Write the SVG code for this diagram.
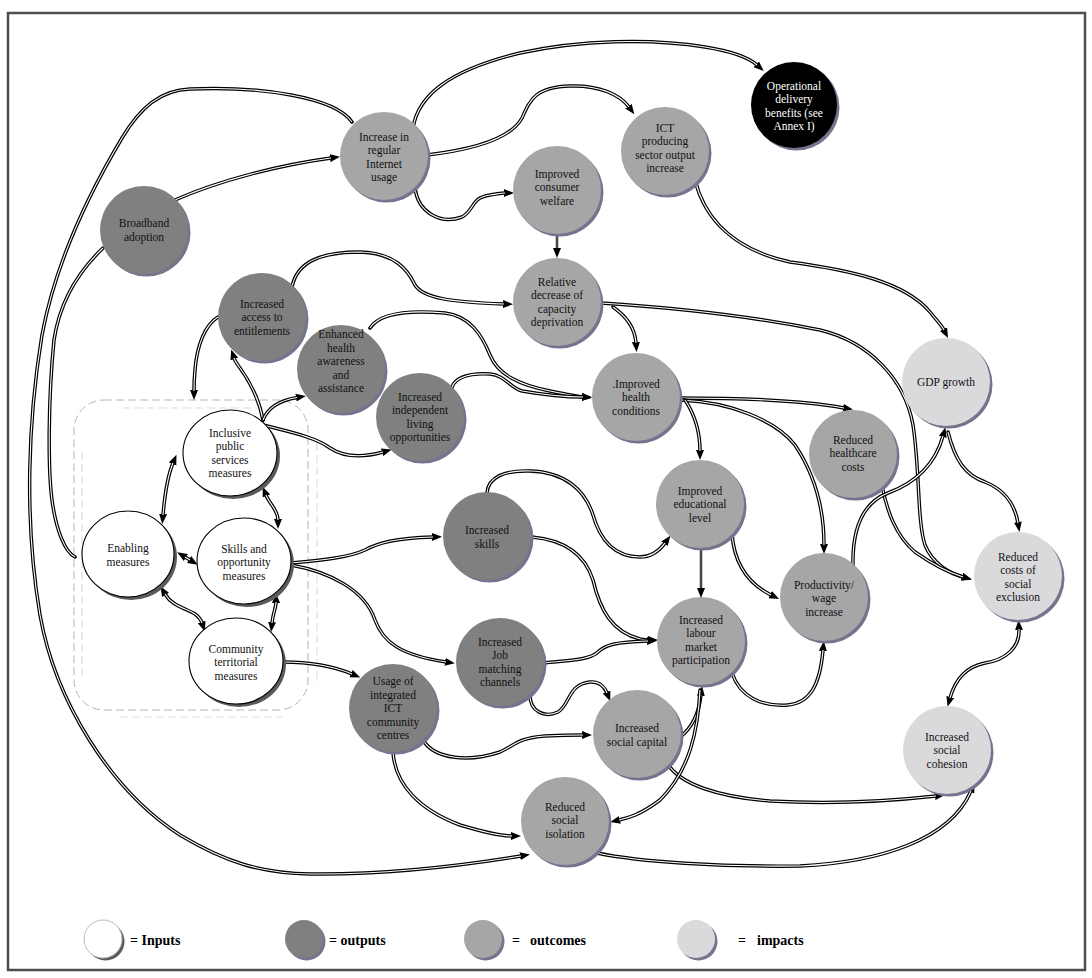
<svg xmlns="http://www.w3.org/2000/svg" xmlns:xlink="http://www.w3.org/1999/xlink" width="1092" height="978" viewBox="0 0 1092 978">
  <style>
    .frame{fill:#fff;stroke:#4d4d4d;stroke-width:2.5}
    .box{fill:none;stroke:#b5b5b5;stroke-width:1;stroke-dasharray:8 4}
    .box2{fill:none;stroke:#dcdce8;stroke-width:1.2;stroke-dasharray:8 4}
    .ln{fill:none;stroke:#000;stroke-width:3.5;stroke-linecap:round}
    .core{fill:none;stroke:#fff;stroke-width:1.1;stroke-linecap:butt}
    .st{fill:none;stroke:#4a4a4a;stroke-width:2.6}
    .ae{marker-end:url(#ah)}
    .ab{marker-start:url(#ahs);marker-end:url(#ah)}
    .sh{fill:#74748e}
    .shw{fill:#5a5a5a}
    .inp{fill:#fff;stroke:#000;stroke-width:1.1}
    .out{fill:#808080}
    .oc{fill:#a6a6a6}
    .im{fill:#dadadd}
    .op{fill:#000}
    text{font-family:"Liberation Serif","Times New Roman",serif;font-size:11.5px;fill:#111;text-anchor:middle}
    text.w{fill:#fff}
    text.lg{font-size:14px;font-weight:bold;text-anchor:start;fill:#000}
  </style>
  <defs>
    <marker id="ah" viewBox="0 0 10 8" refX="1" refY="4" markerWidth="10" markerHeight="8.5" markerUnits="userSpaceOnUse" orient="auto">
      <path d="M0,0 L10,4 L0,8 z" fill="#000"/>
    </marker>
    <marker id="ahs" viewBox="0 0 10 8" refX="1" refY="4" markerWidth="10" markerHeight="8.5" markerUnits="userSpaceOnUse" orient="auto-start-reverse">
      <path d="M0,0 L10,4 L0,8 z" fill="#000"/>
    </marker>
    <!-- connector geometry -->
    <path id="c1" d="M352,122 C335,97 260,86 190,89 C160,90 140,108 122,138 C88,195 55,265 42,335 C28,420 24,520 40,615 C55,700 110,790 180,835 C225,862 260,873 310,874 C390,875 460,866 521,856"/>
    <path id="c2" d="M103,248 C80,270 60,300 54,340 C48,400 48,470 52,500 C56,530 65,552 75,557"/>
    <path id="c3" d="M175,200 C220,180 280,165 331,158"/>
    <path id="c4" d="M413,128 C418,95 450,70 520,53 C580,40 650,38 705,47 C730,51 748,57 757,65"/>
    <path id="c5" d="M427,155 C470,150 510,140 522,118 C530,100 535,87 570,86 C600,85 620,95 629,107"/>
    <path id="c6" d="M415,188 C418,212 440,225 462,217 C475,210 470,198 490,195 C497,194 502,193 505,193"/>
    <path id="c8" d="M695,180 C705,220 735,250 790,262 C850,270 905,282 930,312 C938,322 942,326 944,330"/>
    <path id="c9" d="M292,287 C297,262 320,252 360,252 C395,253 408,270 415,285 C423,298 450,302 504,304"/>
    <path id="c10" d="M370,328 C380,312 410,310 445,313 C470,316 482,335 490,355 C498,375 520,385 550,391 C565,394 575,396 583,397"/>
    <path id="c11" d="M452,387 C456,377 470,373 490,374 C505,375 510,388 522,391 C545,395 565,397 583,397"/>
    <path id="c12" d="M613,307 C626,316 635,328 636,343"/>
    <path id="c13" d="M601,303 C680,308 760,318 820,330 C870,342 905,380 913,425 C920,470 917,520 925,545 C933,565 952,574 963,577"/>
    <path id="c14" d="M882,486 C887,510 895,535 915,552 C935,566 950,573 963,577"/>
    <path id="c15" d="M853,567 C852,530 862,503 888,493 C915,483 935,465 943,436"/>
    <path id="c16" d="M948,432 C955,460 965,475 985,482 C1005,490 1015,505 1018,523"/>
    <path id="c17" d="M680,398 C740,398 800,400 844,408"/>
    <path id="c18" d="M681,400 C730,402 775,420 795,445 C815,475 824,510 824,545"/>
    <path id="c19" d="M685,400 C695,415 700,430 700,451"/>
    <path id="c21" d="M732,534 C734,560 745,582 771,595"/>
    <path id="c22" d="M732,673 C740,697 762,707 788,705 C810,703 820,685 823,650"/>
    <path id="c23" d="M487,493 C488,477 505,470 530,471 C565,472 585,490 593,515 C600,540 615,557 640,557 C655,557 662,547 665,543"/>
    <path id="c24" d="M532,537 C565,540 585,555 593,580 C600,610 612,632 640,639 C645,640 647,640 649,640"/>
    <path id="c25" d="M291,563 C325,560 350,557 365,550 C378,543 395,538 433,537"/>
    <path id="c26" d="M291,565 C330,572 365,590 375,620 C383,642 400,655 446,662"/>
    <path id="c27" d="M543,663 C570,660 590,660 598,652 C605,645 615,642 648,641"/>
    <path id="c28" d="M530,695 C530,712 545,718 558,712 C570,705 568,684 590,682 C600,681 605,688 607,693"/>
    <path id="c29" d="M283,662 C310,662 333,666 352,674"/>
    <path id="c30" d="M423,740 C435,760 470,762 500,752 C515,745 518,738 545,736 C565,735 575,735 583,735"/>
    <path id="c31" d="M393,752 C395,785 420,810 460,825 C490,834 505,836 512,836"/>
    <path id="c32" d="M667,763 C680,785 720,797 770,801 C840,805 900,800 936,796"/>
    <path id="c33" d="M597,853 C640,862 720,867 800,866 C880,862 950,840 971,791"/>
    <path id="c34" d="M680,737 C692,728 699,712 701,695"/>
    <path id="c35" d="M700,690 C698,730 690,770 660,800 C640,815 628,818 619,820"/>
    <path id="c36" d="M1019,629 C1020,648 1005,660 985,663 C965,667 955,680 950,698"/>
    <path id="c37" d="M218,317 C205,325 197,345 195,370 C194,380 194,387 194,391"/>
    <path id="c38" d="M263,420 C259,398 250,382 240,368 C237,364 235,361 234,358"/>
    <path id="c39" d="M263,420 C268,407 282,400 297,397.5"/>
    <path id="c40" d="M263,425 C290,432 315,437 330,448 C345,458 365,457 383,452"/>
    <path id="c41" d="M163,515 C165,492 168,475 173,463"/>
    <path id="c42" d="M266,495 C270,505 278,510 278,520"/>
    <path id="c43" d="M185,557 L190,560"/>
    <path id="c44" d="M165,594 C172,606 185,608 195,614 C199,617 201,620 202,623"/>
    <path id="c45" d="M276,602 C276,608 273,613 272,623"/>
  </defs>

  <rect class="frame" x="8" y="13" width="1077" height="957"/>

  <!-- grouping frame around the input measures -->
  <g id="inputs-frame">
    <rect class="box" x="74" y="400" width="234" height="310" rx="30" ry="30"/>
    <line class="box2" x1="123" y1="408" x2="263" y2="408"/>
    <line class="box2" x1="82" y1="452" x2="82" y2="680"/>
    <line class="box2" x1="317" y1="443" x2="317" y2="684"/>
    <line class="box2" x1="120" y1="717" x2="282" y2="717"/>
  </g>

  <!-- connectors: black outline with white core -->
  <g id="connectors">
    <use xlink:href="#c1" class="ln ae"/><use xlink:href="#c1" class="core"/>
    <use xlink:href="#c2" class="ln"/><use xlink:href="#c2" class="core"/>
    <use xlink:href="#c3" class="ln ae"/><use xlink:href="#c3" class="core"/>
    <use xlink:href="#c4" class="ln ae"/><use xlink:href="#c4" class="core"/>
    <use xlink:href="#c5" class="ln ae"/><use xlink:href="#c5" class="core"/>
    <use xlink:href="#c6" class="ln ae"/><use xlink:href="#c6" class="core"/>
    <path class="st ae" d="M557,234 L557,249"/>
    <use xlink:href="#c8" class="ln ae"/><use xlink:href="#c8" class="core"/>
    <use xlink:href="#c9" class="ln ae"/><use xlink:href="#c9" class="core"/>
    <use xlink:href="#c10" class="ln ae"/><use xlink:href="#c10" class="core"/>
    <use xlink:href="#c11" class="ln ae"/><use xlink:href="#c11" class="core"/>
    <use xlink:href="#c12" class="ln ae"/><use xlink:href="#c12" class="core"/>
    <use xlink:href="#c13" class="ln ae"/><use xlink:href="#c13" class="core"/>
    <use xlink:href="#c14" class="ln ae"/><use xlink:href="#c14" class="core"/>
    <use xlink:href="#c15" class="ln ae"/><use xlink:href="#c15" class="core"/>
    <use xlink:href="#c16" class="ln ae"/><use xlink:href="#c16" class="core"/>
    <use xlink:href="#c17" class="ln ae"/><use xlink:href="#c17" class="core"/>
    <use xlink:href="#c18" class="ln ae"/><use xlink:href="#c18" class="core"/>
    <use xlink:href="#c19" class="ln ae"/><use xlink:href="#c19" class="core"/>
    <path class="st ae" d="M701,548 L701,589"/>
    <use xlink:href="#c21" class="ln ae"/><use xlink:href="#c21" class="core"/>
    <use xlink:href="#c22" class="ln ae"/><use xlink:href="#c22" class="core"/>
    <use xlink:href="#c23" class="ln ae"/><use xlink:href="#c23" class="core"/>
    <use xlink:href="#c24" class="ln ae"/><use xlink:href="#c24" class="core"/>
    <use xlink:href="#c25" class="ln ae"/><use xlink:href="#c25" class="core"/>
    <use xlink:href="#c26" class="ln ae"/><use xlink:href="#c26" class="core"/>
    <use xlink:href="#c27" class="ln ae"/><use xlink:href="#c27" class="core"/>
    <use xlink:href="#c28" class="ln ae"/><use xlink:href="#c28" class="core"/>
    <use xlink:href="#c29" class="ln ae"/><use xlink:href="#c29" class="core"/>
    <use xlink:href="#c30" class="ln ae"/><use xlink:href="#c30" class="core"/>
    <use xlink:href="#c31" class="ln ae"/><use xlink:href="#c31" class="core"/>
    <use xlink:href="#c32" class="ln ae"/><use xlink:href="#c32" class="core"/>
    <use xlink:href="#c33" class="ln ae"/><use xlink:href="#c33" class="core"/>
    <use xlink:href="#c34" class="ln ae"/><use xlink:href="#c34" class="core"/>
    <use xlink:href="#c35" class="ln ae"/><use xlink:href="#c35" class="core"/>
    <use xlink:href="#c36" class="ln ab"/><use xlink:href="#c36" class="core"/>
    <use xlink:href="#c37" class="ln ae"/><use xlink:href="#c37" class="core"/>
    <use xlink:href="#c38" class="ln ae"/><use xlink:href="#c38" class="core"/>
    <use xlink:href="#c39" class="ln ae"/><use xlink:href="#c39" class="core"/>
    <use xlink:href="#c40" class="ln ae"/><use xlink:href="#c40" class="core"/>
    <use xlink:href="#c41" class="ln ab"/><use xlink:href="#c41" class="core"/>
    <use xlink:href="#c42" class="ln ab"/><use xlink:href="#c42" class="core"/>
    <use xlink:href="#c43" class="ln ab"/><use xlink:href="#c43" class="core"/>
    <use xlink:href="#c44" class="ln ab"/><use xlink:href="#c44" class="core"/>
    <use xlink:href="#c45" class="ln ab"/><use xlink:href="#c45" class="core"/>
  </g>

  <!-- inputs -->
  <g id="n-inclusive">
    <ellipse class="shw" cx="233" cy="456" rx="47" ry="43"/>
    <ellipse class="inp" cx="230" cy="453" rx="47" ry="43"/>
    <text><tspan x="230" y="436.8">Inclusive</tspan><tspan x="230" y="450.3">public</tspan><tspan x="230" y="463.8">services</tspan><tspan x="230" y="477.3">measures</tspan></text>
  </g>
  <g id="n-enabling">
    <ellipse class="shw" cx="131" cy="557" rx="46" ry="43"/>
    <ellipse class="inp" cx="128" cy="554" rx="46" ry="43"/>
    <text><tspan x="128" y="552.3">Enabling</tspan><tspan x="128" y="565.8">measures</tspan></text>
  </g>
  <g id="n-skills-opportunity">
    <ellipse class="shw" cx="247" cy="564" rx="47" ry="43"/>
    <ellipse class="inp" cx="244" cy="561" rx="47" ry="43"/>
    <text><tspan x="244" y="552.5">Skills and</tspan><tspan x="244" y="566">opportunity</tspan><tspan x="244" y="579.5">measures</tspan></text>
  </g>
  <g id="n-community">
    <ellipse class="shw" cx="239" cy="664" rx="47" ry="43"/>
    <ellipse class="inp" cx="236" cy="661" rx="47" ry="43"/>
    <text><tspan x="236" y="652.5">Community</tspan><tspan x="236" y="666">territorial</tspan><tspan x="236" y="679.5">measures</tspan></text>
  </g>

  <!-- outputs -->
  <g id="n-broadband">
    <circle class="sh" cx="146.5" cy="232.5" r="44"/>
    <circle class="out" cx="144" cy="230" r="44"/>
    <text><tspan x="144" y="227.3">Broadband</tspan><tspan x="144" y="240.8">adoption</tspan></text>
  </g>
  <g id="n-access">
    <circle class="sh" cx="264.5" cy="319.5" r="44"/>
    <circle class="out" cx="262" cy="317" r="44"/>
    <text><tspan x="262" y="307.5">Increased</tspan><tspan x="262" y="321">access to</tspan><tspan x="262" y="334.5">entitlements</tspan></text>
  </g>
  <g id="n-health-awareness">
    <circle class="sh" cx="343.5" cy="371.5" r="44"/>
    <circle class="out" cx="341" cy="369" r="44"/>
    <text><tspan x="341" y="338">Enhanced</tspan><tspan x="341" y="351.5">health</tspan><tspan x="341" y="365">awareness</tspan><tspan x="341" y="378.5">and</tspan><tspan x="341" y="392">assistance</tspan></text>
  </g>
  <g id="n-independent">
    <circle class="sh" cx="422.5" cy="419.5" r="44"/>
    <circle class="out" cx="420" cy="417" r="44"/>
    <text><tspan x="420" y="400.8">Increased</tspan><tspan x="420" y="414.3">independent</tspan><tspan x="420" y="427.8">living</tspan><tspan x="420" y="441.3">opportunities</tspan></text>
  </g>
  <g id="n-incr-skills">
    <circle class="sh" cx="489.5" cy="538.5" r="44"/>
    <circle class="out" cx="487" cy="536" r="44"/>
    <text><tspan x="487" y="534.3">Increased</tspan><tspan x="487" y="547.8">skills</tspan></text>
  </g>
  <g id="n-job-matching">
    <circle class="sh" cx="502.5" cy="664.5" r="44"/>
    <circle class="out" cx="500" cy="662" r="44"/>
    <text><tspan x="500" y="645.8">Increased</tspan><tspan x="500" y="659.3">Job</tspan><tspan x="500" y="672.8">matching</tspan><tspan x="500" y="686.3">channels</tspan></text>
  </g>
  <g id="n-ict-centres">
    <circle class="sh" cx="395.5" cy="710.5" r="44"/>
    <circle class="out" cx="393" cy="708" r="44"/>
    <text><tspan x="393" y="685">Usage of</tspan><tspan x="393" y="698.5">integrated</tspan><tspan x="393" y="712">ICT</tspan><tspan x="393" y="725.5">community</tspan><tspan x="393" y="739">centres</tspan></text>
  </g>

  <!-- outcomes -->
  <g id="n-internet">
    <circle class="sh" cx="386.5" cy="158.5" r="44"/>
    <circle class="oc" cx="384" cy="156" r="44"/>
    <text><tspan x="384" y="140.8">Increase in</tspan><tspan x="384" y="154.3">regular</tspan><tspan x="384" y="167.8">Internet</tspan><tspan x="384" y="181.3">usage</tspan></text>
  </g>
  <g id="n-ict-sector">
    <circle class="sh" cx="667.5" cy="153.5" r="44"/>
    <circle class="oc" cx="665" cy="151" r="44"/>
    <text><tspan x="665" y="131.8">ICT</tspan><tspan x="665" y="145.3">producing</tspan><tspan x="665" y="158.8">sector output</tspan><tspan x="665" y="172.3">increase</tspan></text>
  </g>
  <g id="n-consumer">
    <circle class="sh" cx="559.5" cy="192.5" r="44"/>
    <circle class="oc" cx="557" cy="190" r="44"/>
    <text><tspan x="557" y="177.5">Improved</tspan><tspan x="557" y="191">consumer</tspan><tspan x="557" y="204.5">welfare</tspan></text>
  </g>
  <g id="n-capacity">
    <circle class="sh" cx="559.5" cy="304.5" r="44"/>
    <circle class="oc" cx="557" cy="302" r="44"/>
    <text><tspan x="557" y="285.8">Relative</tspan><tspan x="557" y="299.3">decrease of</tspan><tspan x="557" y="312.8">capacity</tspan><tspan x="557" y="326.3">deprivation</tspan></text>
  </g>
  <g id="n-health">
    <circle class="sh" cx="638.5" cy="399.5" r="44"/>
    <circle class="oc" cx="636" cy="397" r="44"/>
    <text><tspan x="636" y="387.5">.Improved</tspan><tspan x="636" y="401">health</tspan><tspan x="636" y="414.5">conditions</tspan></text>
  </g>
  <g id="n-education">
    <circle class="sh" cx="702.5" cy="506.5" r="44"/>
    <circle class="oc" cx="700" cy="504" r="44"/>
    <text><tspan x="700" y="494.5">Improved</tspan><tspan x="700" y="508">educational</tspan><tspan x="700" y="521.5">level</tspan></text>
  </g>
  <g id="n-labour">
    <circle class="sh" cx="703.5" cy="643.5" r="44"/>
    <circle class="oc" cx="701" cy="641" r="44"/>
    <text><tspan x="701" y="623.8">Increased</tspan><tspan x="701" y="637.3">labour</tspan><tspan x="701" y="650.8">market</tspan><tspan x="701" y="664.3">participation</tspan></text>
  </g>
  <g id="n-social-capital">
    <circle class="sh" cx="639.5" cy="736.5" r="44"/>
    <circle class="oc" cx="637" cy="734" r="44"/>
    <text><tspan x="637" y="732.3">Increased</tspan><tspan x="637" y="745.8">social capital</tspan></text>
  </g>
  <g id="n-isolation">
    <circle class="sh" cx="567.5" cy="823.5" r="44"/>
    <circle class="oc" cx="565" cy="821" r="44"/>
    <text><tspan x="565" y="810.5">Reduced</tspan><tspan x="565" y="824">social</tspan><tspan x="565" y="837.5">isolation</tspan></text>
  </g>
  <g id="n-healthcare">
    <circle class="sh" cx="855.5" cy="456.5" r="44"/>
    <circle class="oc" cx="853" cy="454" r="44"/>
    <text><tspan x="853" y="443.5">Reduced</tspan><tspan x="853" y="457">healthcare</tspan><tspan x="853" y="470.5">costs</tspan></text>
  </g>
  <g id="n-productivity">
    <circle class="sh" cx="826.5" cy="599.5" r="44"/>
    <circle class="oc" cx="824" cy="597" r="44"/>
    <text><tspan x="824" y="588.5">Productivity/</tspan><tspan x="824" y="602">wage</tspan><tspan x="824" y="615.5">increase</tspan></text>
  </g>

  <!-- impacts -->
  <g id="n-gdp">
    <circle class="sh" cx="948.5" cy="384.5" r="44"/>
    <circle class="im" cx="946" cy="382" r="44"/>
    <text x="946" y="386">GDP growth</text>
  </g>
  <g id="n-exclusion">
    <circle class="sh" cx="1020.5" cy="578.5" r="44"/>
    <circle class="im" cx="1018" cy="576" r="44"/>
    <text><tspan x="1018" y="560.8">Reduced</tspan><tspan x="1018" y="574.3">costs of</tspan><tspan x="1018" y="587.8">social</tspan><tspan x="1018" y="601.3">exclusion</tspan></text>
  </g>
  <g id="n-cohesion">
    <circle class="sh" cx="949.5" cy="752.5" r="44"/>
    <circle class="im" cx="947" cy="750" r="44"/>
    <text><tspan x="947" y="740.5">Increased</tspan><tspan x="947" y="754">social</tspan><tspan x="947" y="767.5">cohesion</tspan></text>
  </g>

  <!-- operational benefits -->
  <g id="n-operational">
    <circle class="sh" cx="796.5" cy="107.5" r="43"/>
    <circle class="op" cx="794" cy="105" r="43"/>
    <text class="w"><tspan x="794" y="89.8">Operational</tspan><tspan x="794" y="103.3">delivery</tspan><tspan x="794" y="116.8">benefits (see</tspan><tspan x="794" y="130.3">Annex I)</tspan></text>
  </g>

  <!-- legend -->
  <g id="legend">
    <circle class="shw" cx="105.5" cy="941.5" r="19"/>
    <circle cx="103" cy="939" r="19" fill="#fff" stroke="#bdbdbd" stroke-width="1"/>
    <text class="lg" x="130" y="945">= Inputs</text>
    <circle class="sh" cx="306.5" cy="941.5" r="19"/>
    <circle class="out" cx="304" cy="939" r="19"/>
    <text class="lg" x="329" y="945">= outputs</text>
    <circle class="sh" cx="485.5" cy="941.5" r="19"/>
    <circle class="oc" cx="483" cy="939" r="19"/>
    <text class="lg" y="945"><tspan x="512">=</tspan><tspan x="530">outcomes</tspan></text>
    <circle class="sh" cx="698.5" cy="941.5" r="19"/>
    <circle class="im" cx="696" cy="939" r="19"/>
    <text class="lg" y="945"><tspan x="738">=</tspan><tspan x="757">impacts</tspan></text>
  </g>
</svg>
